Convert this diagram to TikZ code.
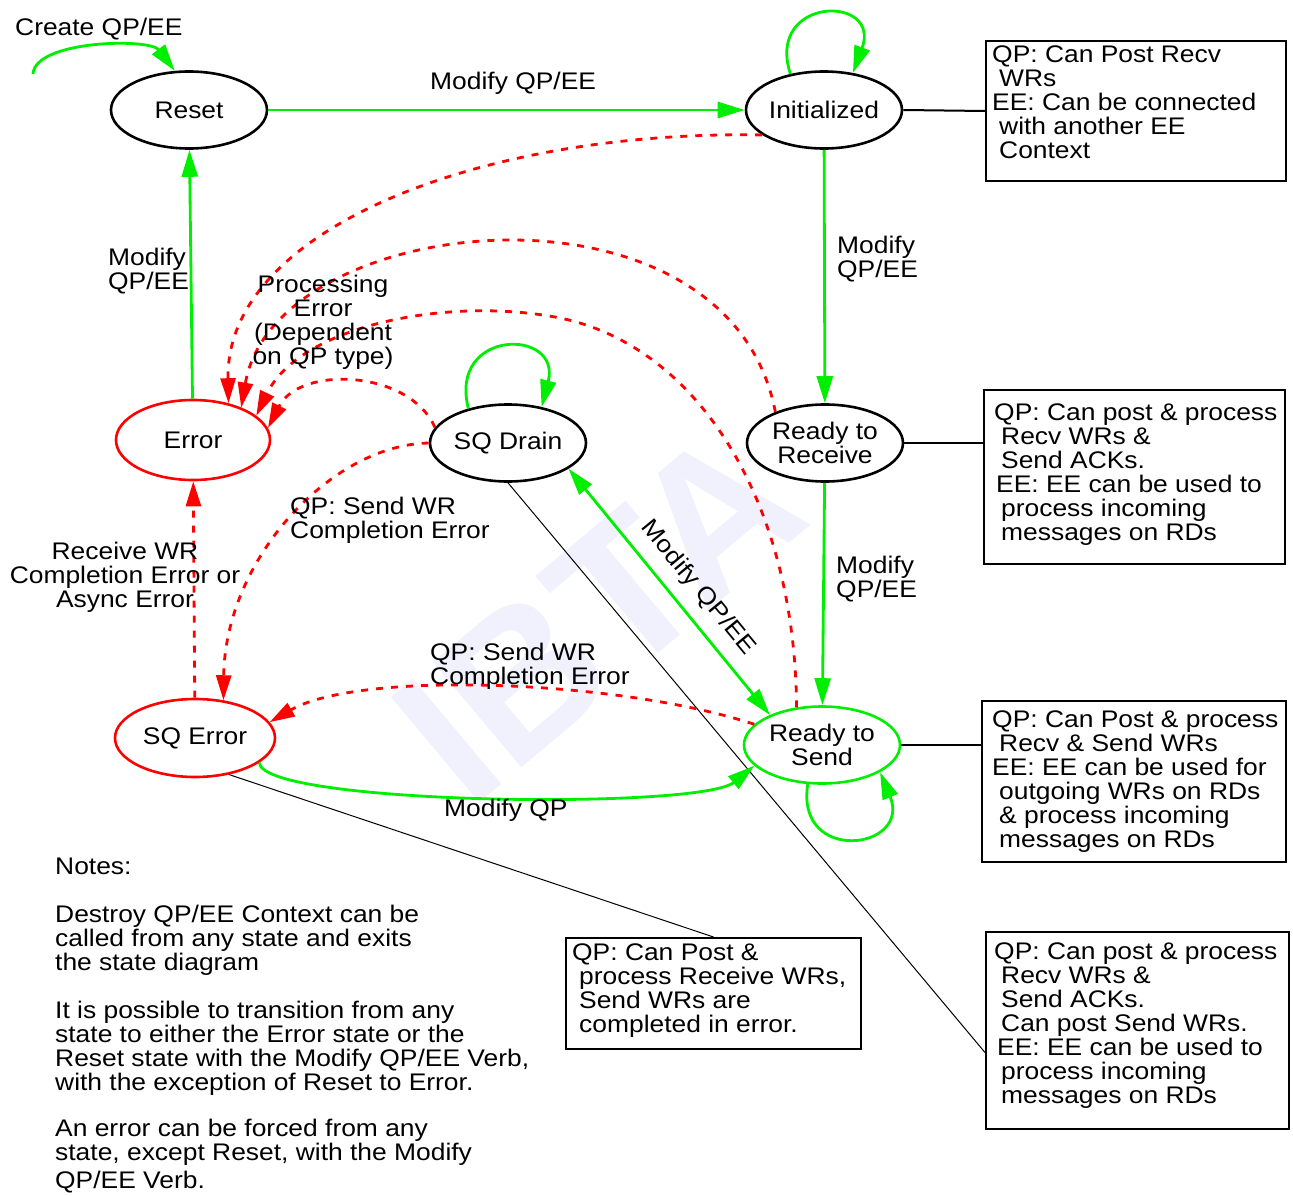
\documentclass[tikz,border=0pt]{standalone}
\usepackage{fontspec}
\setmainfont{Liberation Sans}[FakeStretch=1.1]
\newfontfamily\wmfont{Liberation Sans}
\usetikzlibrary{arrows.meta,shapes.geometric}
\definecolor{stgreen}{RGB}{0,238,0}
\definecolor{stred}{RGB}{255,0,0}
\definecolor{wmblue}{RGB}{240,241,253}
\newcommand\lblfont{\fontsize{24}{24}\selectfont\lineskiplimit=-100pt\relax}
\begin{document}
\begin{tikzpicture}[x=1pt,y=-1pt,
  lbl/.style={font=\lblfont, inner sep=0pt, align=left},
  state/.style={ellipse, draw=black, line width=2.6pt, minimum width=156pt, minimum height=77pt, inner sep=0pt, font=\lblfont, align=center},
  errstate/.style={state, draw=stred},
  gtip/.style={-{Triangle[length=27pt,width=16pt]}},
  rtip/.style={-{Triangle[length=25pt,width=15pt]}},
  gline/.style={draw=stgreen, line width=2.8pt},
  garrow/.style={gline, gtip},
  gdouble/.style={gline, {Triangle[length=27pt,width=16pt]}-{Triangle[length=27pt,width=16pt]}},
  reddash/.style={draw=stred, line width=2.8pt, dash pattern=on 7pt off 8pt, rtip},
  infobox/.style={rectangle, draw=black, line width=2pt, inner sep=0pt, anchor=north west},
  conn/.style={draw=black, line width=2pt},
  thinconn/.style={draw=black, line width=1pt}]
\useasboundingbox (0,0) rectangle (1293,1196);

% watermark
\node[text=wmblue, rotate=40, font=\wmfont\bfseries\fontsize{200}{200}\selectfont, inner sep=0pt] (wm) at (598,614) {IBTA};

% states
\node[state] (reset) at (189,110) {Reset};
\node[state] (init) at (824,110) {Initialized};
\node[errstate, minimum width=154pt, minimum height=80pt] (err) at (193,440) {Error};
\node[state] (sqd) at (508,443) {SQ Drain};
\node[state] (rtr) at (825,443) {Ready to\\Receive};
\node[state, draw=stgreen] (rts) at (822,745) {Ready to\\Send};
\node[errstate, minimum width=160pt, minimum height=78pt] (sqerr) at (195,738) {SQ Error};

% info boxes
\node[infobox, minimum width=300pt, minimum height=140pt] (box1) at (985,40) {};
\node[infobox, minimum width=301pt, minimum height=174pt] (box2) at (983,389) {};
\node[infobox, minimum width=304pt, minimum height=161pt] (box3) at (981,700) {};
\node[infobox, minimum width=295pt, minimum height=111pt] (box4) at (565,937) {};
\node[infobox, minimum width=303pt, minimum height=197pt] (box5) at (985,931) {};

\node[lbl, anchor=north west] (box1t) at (992,46) {QP: Can Post Recv\\\hspace*{7pt}WRs\\EE: Can be connected\\\hspace*{7pt}with another EE\\\hspace*{7pt}Context};
\node[lbl, anchor=north west] (box2t) at (994,404) {QP: Can post \& process\\\hspace*{7pt}Recv WRs \&\\\hspace*{7pt}Send ACKs.\\\hspace*{2pt}EE: EE can be used to\\\hspace*{7pt}process incoming\\\hspace*{7pt}messages on RDs};
\node[lbl, anchor=north west] (box3t) at (992,711) {QP: Can Post \& process\\\hspace*{7pt}Recv \& Send WRs\\EE: EE can be used for\\\hspace*{7pt}outgoing WRs on RDs\\\hspace*{7pt}\& process incoming\\\hspace*{7pt}messages on RDs};
\node[lbl, anchor=north west] (box4t) at (572,944) {QP: Can Post \&\\\hspace*{7pt}process Receive WRs,\\\hspace*{7pt}Send WRs are\\\hspace*{7pt}completed in error.};
\node[lbl, anchor=north west] (box5t) at (994,943) {QP: Can post \& process\\\hspace*{7pt}Recv WRs \&\\\hspace*{7pt}Send ACKs.\\\hspace*{7pt}Can post Send WRs.\\\hspace*{3pt}EE: EE can be used to\\\hspace*{7pt}process incoming\\\hspace*{7pt}messages on RDs};

% connectors to boxes
\draw[conn] (init.east) -- (box1.west);
\draw[conn] (rtr.east) -- (rtr.east -| box2.west);
\draw[conn] (rts.east) -- (rts.east -| box3.west);
\draw[thinconn] (sqerr.313) -- (box4.north);
\draw[thinconn] (sqd.south) -- ([yshift=-22pt]box5.west);

% green transitions
\coordinate (cstart) at (33,74);
\draw[garrow] (cstart) .. controls (35,40) and (150,38) .. (reset.110);
\draw[garrow] (reset) -- (init);
\draw[garrow] (init.133) .. controls (765,-4) and (882,-6) .. (init.52);
\draw[garrow] (init) -- (rtr);
\draw[garrow] (rtr) -- (rts);
\draw[garrow] (err) -- (reset);
\draw[garrow] (sqd.139) .. controls (448,328) and (562,328) .. (sqd.47);
\draw[garrow] (rts.250) .. controls (795,865) and (912,850) .. (rts.335);
\draw[gdouble] (sqd.337) -- (rts.150);
\draw[garrow] (sqerr.339) .. controls (262,805) and (700,810) .. (rts.197);

% red dashed transitions
\draw[reddash] (init.202) .. controls (480,130) and (225,230) .. (err.46);
\draw[reddash] (rtr.148) .. controls (728,165) and (275,210) .. (err.34);
\draw[reddash] (rts.124) .. controls (795,500) and (697,346) .. (560,318) .. controls (450,296) and (300,325) .. (err.21);
\draw[reddash] (sqd.168) .. controls (410,370) and (300,365) .. (err.9);
\draw[reddash] (sqd.west) .. controls (330,445) and (225,560) .. (sqerr.53);
\draw[reddash] (rts.163) .. controls (620,680) and (360,670) .. (sqerr.12);
\draw[reddash] (sqerr) -- (err);

% labels
\node[lbl, anchor=north west] (lcreate) at (15,18) {Create QP/EE};
\node[lbl, anchor=north west] (lmod1) at (430,72) {Modify QP/EE};
\node[lbl, anchor=north west] (lmod2) at (108,248) {Modify\\QP/EE};
\node[lbl, align=center, anchor=north] (lproc) at (323,275) {Processing\\Error\\(Dependent\\on QP type)};
\node[lbl, anchor=north west] (lmod3) at (837,236) {Modify\\QP/EE};
\node[lbl, anchor=north west] (lmod4) at (836,556) {Modify\\QP/EE};
\node[lbl, rotate=-50.5] (lmod5) at (698,588) {Modify QP/EE};
\node[lbl, anchor=north west] (lsend1) at (290,497) {QP: Send WR\\Completion Error};
\node[lbl, align=center, anchor=north] (lrcv) at (125,542) {Receive WR\\Completion Error or\\Async Error};
\node[lbl, anchor=north west] (lsend2) at (430,643) {QP: Send WR\\Completion Error};
\node[lbl, anchor=north west] (lmodqp) at (444,799) {Modify QP};

% notes
\node[lbl, anchor=north west] (notes) at (55,858) {Notes:\\[24pt]
Destroy QP/EE Context can be\\
called from any state and exits\\
the state diagram\\[24pt]
It is possible to transition from any\\
state to either the Error state or the\\
Reset state with the Modify QP/EE Verb,\\
with the exception of Reset to Error.\\[22pt]
An error can be forced from any\\
state, except Reset, with the Modify\\[4pt]
QP/EE Verb.};
\end{tikzpicture}
\end{document}
